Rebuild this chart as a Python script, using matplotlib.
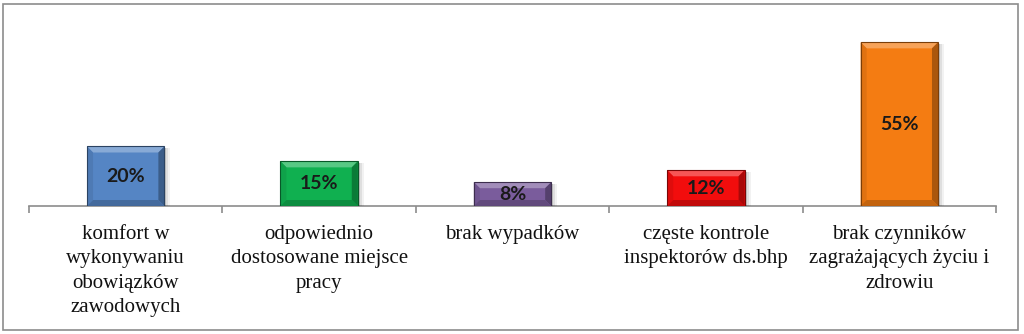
import matplotlib.pyplot as plt
from matplotlib.patches import Polygon, Rectangle
import matplotlib.colors as mcolors
import numpy as np

categories = ['komfort w\nwykonywaniu\nobowiązków\nzawodowych',
              'odpowiednio\ndostosowane miejsce\npracy',
              'brak wypadków',
              'częste kontrole\ninspektorów ds.bhp',
              'brak czynników\nzagrażających życiu i\nzdrowiu']
values = [20, 15, 8, 12, 55]
labels = ['20%', '15%', '8%', '12%', '55%']
colors = ['#5585c4', '#10b050', '#7a5c9c', '#f20d0d', '#f47c12']


def shade(c, f):
    """ f>0 lighter, f<0 darker """
    rgb = np.array(mcolors.to_rgb(c))
    if f > 0:
        rgb = rgb + (1 - rgb) * f
    else:
        rgb = rgb * (1 + f)
    return tuple(rgb)


fig = plt.figure(figsize=(10.24, 3.34), dpi=100)
fig.patches.append(Rectangle((3 / 1024, 4 / 334), 1015 / 1024, 326 / 334, transform=fig.transFigure,
                             fill=False, edgecolor='#8c8c8c', linewidth=1.2))
ax = fig.add_axes([29 / 1024, 128 / 334, 967 / 1024, 180 / 334])

x = np.arange(len(values))
bars = ax.bar(x, values, width=0.4, color=colors, edgecolor='none', zorder=3)
ax.set_xlim(-0.5, len(values) - 0.5)
ax.set_ylim(0, 60.5)

for s in ['top', 'right', 'left']:
    ax.spines[s].set_visible(False)
ax.spines['bottom'].set_color('#8c8c8c')
ax.spines['bottom'].set_linewidth(1.2)
ax.spines['bottom'].set_zorder(2)
ax.set_yticks([])
ax.set_xticks(np.arange(len(values) + 1) - 0.5)
ax.set_xticklabels([])
ax.tick_params(axis='x', length=5, color='#8c8c8c', width=1.2, direction='out')

for i, cat in enumerate(categories):
    ax.text(i, -0.105, cat, transform=ax.get_xaxis_transform(), ha='center', va='top',
            fontsize=15, family='Liberation Serif', linespacing=1.38, color='#111111')

fig.canvas.draw()
bw = 6  # bevel width in pixels
for b, c, lab in zip(bars, colors, labels):
    ext = b.get_window_extent()
    x0, y0, x1, y1 = ext.x0, ext.y0, ext.x1, ext.y1
    # shadow
    for k, a in [(6, 0.05), (4, 0.08), (2, 0.14)]:
        ax.add_patch(Rectangle((x0 + k, y0 - 1), x1 - x0, y1 - y0 - 1, transform=None,
                               facecolor='black', alpha=a, edgecolor='none', zorder=2.5))
    ix0, iy0, ix1, iy1 = x0 + bw, y0 + bw, x1 - bw, y1 - bw
    bevels = [
        ([(x0, y1), (x1, y1), (ix1, iy1), (ix0, iy1)], shade(c, 0.3)),
        ([(x0, y0), (x0, y1), (ix0, iy1), (ix0, iy0)], shade(c, -0.08)),
        ([(x1, y0), (x1, y1), (ix1, iy1), (ix1, iy0)], shade(c, -0.3)),
        ([(x0, y0), (x1, y0), (ix1, iy0), (ix0, iy0)], shade(c, -0.2)),
    ]
    for pts, fc in bevels:
        ax.add_patch(Polygon(pts, closed=True, transform=None, facecolor=fc,
                             edgecolor='none', zorder=4))
    ax.add_patch(Rectangle((x0, y0), x1 - x0, y1 - y0, transform=None, fill=False,
                           edgecolor=shade(c, -0.5), linewidth=0.8, zorder=5))
    ax.text(b.get_x() + b.get_width() / 2, b.get_height() / 2, lab, ha='center', va='center',
            fontsize=14, fontweight='bold', family='Lato', color='#1a1a1a', zorder=6)

fig.savefig('out.png', dpi=100)
